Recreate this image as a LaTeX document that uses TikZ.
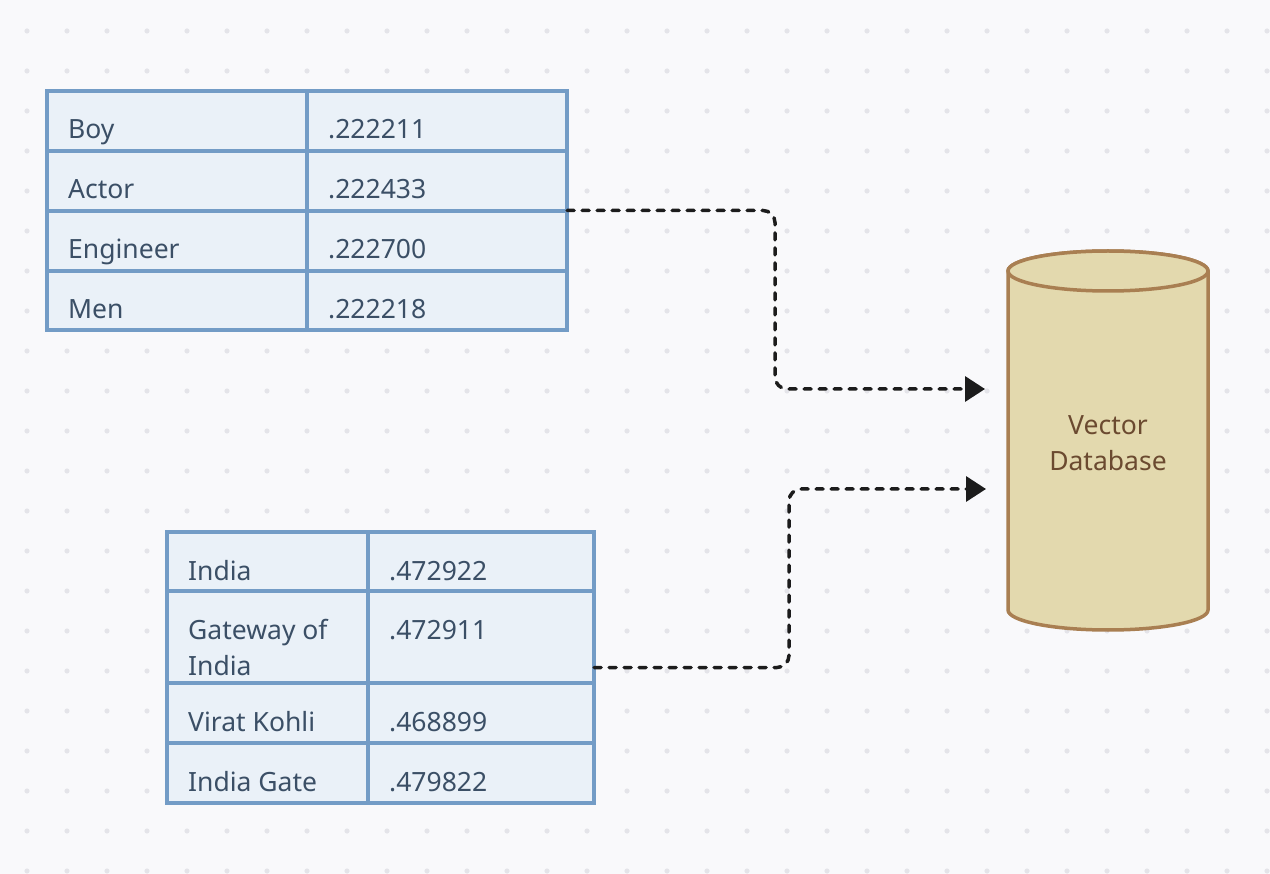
\documentclass[tikz,border=0pt]{standalone}
\usepackage{fontspec}
\setmainfont{Noto Sans}
\usetikzlibrary{arrows.meta}

\definecolor{bgcol}{HTML}{F9F9FB}
\definecolor{dotcol}{HTML}{E4E4E9}
\definecolor{tabfill}{HTML}{EAF1F8}
\definecolor{tabline}{HTML}{739CC6}
\definecolor{celltxt}{HTML}{3B4F66}
\definecolor{dbfill}{HTML}{E3D9AE}
\definecolor{dbline}{HTML}{A97F52}
\definecolor{dbtxt}{HTML}{6B4A30}
\definecolor{linkcol}{HTML}{1C1C1C}

\begin{document}
\begin{tikzpicture}[x=1pt, y=-1pt, >={Triangle[length=20pt, width=25pt]},
  tabframe/.style={draw=tabline, fill=tabfill, line width=3.5pt, outer sep=0pt, inner sep=0pt, anchor=north west},
  rule/.style={draw=tabline, line width=3.5pt},
  celltext/.style={anchor=base west, inner sep=0pt, text=celltxt,
    font=\fontsize{26.5}{36}\selectfont},
  dbshape/.style={draw=dbline, fill=dbfill, line width=3.5pt},
  dbtext/.style={minimum width=200pt, minimum height=380pt, inner sep=0pt, outer sep=0pt,
    align=center, text=dbtxt, font=\fontsize{26.5}{36}\selectfont},
  link/.style={->, draw=linkcol, line width=3.5pt, dash pattern=on 7pt off 8pt,
    line cap=round, rounded corners=12pt}]

% パラメータ
\def\gap{40}      % 点の間隔
\def\dotr{2.6pt}  % 点の半径

%========================
% 背景と点
%========================
\useasboundingbox (0,0) rectangle (1270,874);
\fill[bgcol] (0,0) rectangle (1270,874);
\foreach \i in {0,...,31}
  \foreach \j in {0,...,21}
    \fill[dotcol] ({27+\gap*\i},{31+\gap*\j}) circle (\dotr);

%========================
% 表 A
%========================
\node[tabframe, minimum width=520pt, minimum height=239pt] (tabA) at (47,91) {};
\draw[rule] (307,91) -- (307,330);
\foreach \y in {151,211,271}
  \draw[rule] (47,\y) -- (567,\y);
\foreach \y/\w/\v [count=\i] in {139/Boy/.222211, 199/Actor/.222433,
    259/Engineer/.222700, 319/Men/.222218} {
  \node[celltext] (wA\i) at (68,\y) {\w};
  \node[celltext] (vA\i) at (328,\y) {\v};
}

%========================
% 表 B
%========================
\node[tabframe, minimum width=427pt, minimum height=271pt] (tabB) at (167,532) {};
\draw[rule] (368,532) -- (368,803);
\foreach \y in {591,683,743}
  \draw[rule] (167,\y) -- (594,\y);
\foreach \y/\w/\v [count=\i] in {580/India/.472922,
    639/{\vtop{\hbox{Gateway of}\hbox{India}}}/.472911,
    731/Virat Kohli/.468899, 791/India Gate/.479822} {
  \node[celltext] (wB\i) at (188,\y) {\w};
  \node[celltext] (vB\i) at (389,\y) {\v};
}

%========================
% データベース
%========================
\filldraw[dbshape] (1008,271) -- (1008,610)
  arc[start angle=180, end angle=360, x radius=100pt, y radius=20pt]
  -- (1208,271)
  arc[start angle=0, end angle=180, x radius=100pt, y radius=20pt] -- cycle;
\filldraw[dbshape] (1108,271) ellipse [x radius=100pt, y radius=20pt];
\node[dbtext] (db) at (1108,443) {Vector\\Database};

%========================
% 矢印
%========================
\coordinate (inA) at ([xshift=-23pt, yshift=54pt]db.west);
\coordinate (bendA) at (775,300);
\draw[link] (tabA.east) -| (bendA) |- (inA);

\coordinate (inB) at ([xshift=-22pt, yshift=-46pt]db.west);
\coordinate (bendB) at (789,580);
\draw[link] (tabB.east) -| (bendB) |- (inB);

\end{tikzpicture}
\end{document}
